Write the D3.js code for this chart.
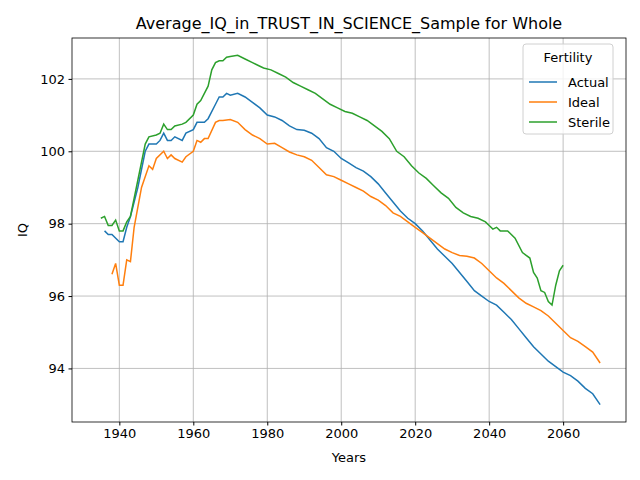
<!DOCTYPE html>
<html>
<head>
<meta charset="utf-8">
<script src="https://d3js.org/d3.v7.min.js"></script>
<style>
  body { margin: 0; background: #fff; }
  text { font-family: "DejaVu Sans", sans-serif; }
</style>
</head>
<body>
<div id="chart"></div>
<script>
// data
var actualYears = [1936,1937,1938,1940,1941,1942,1943,1945,1947,1948,1950,1951,1952,1953,1954,1955,1957,1958,1960,1961,1963,1964,1966,1967,1968,1969,1970,1972,1974,1976,1978,1980,1982,1984,1986,1988,1990,1992,1994,1996,1998,2000,2002,2004,2006,2008,2010,2012,2014,2016,2018,2020,2022,2024,2026,2028,2030,2032,2034,2036,2038,2040,2042,2044,2046,2048,2050,2052,2054,2056,2058,2060,2062,2064,2066,2068,2070];
var actualIQ = [97.8,97.7,97.7,97.5,97.5,97.9,98.2,99.0,100.0,100.2,100.2,100.3,100.5,100.3,100.3,100.4,100.3,100.5,100.6,100.8,100.8,100.9,101.3,101.5,101.5,101.6,101.55,101.6,101.5,101.35,101.2,101.0,100.95,100.85,100.7,100.6,100.58,100.5,100.35,100.1,100.0,99.8,99.68,99.55,99.45,99.3,99.1,98.85,98.6,98.35,98.15,98.0,97.8,97.55,97.3,97.1,96.9,96.65,96.4,96.15,96.0,95.85,95.75,95.55,95.35,95.1,94.85,94.6,94.4,94.2,94.05,93.9,93.8,93.65,93.45,93.3,93.0];

var idealYears = [1938,1939,1940,1941,1942,1943,1944,1946,1948,1949,1950,1952,1953,1954,1955,1957,1958,1960,1961,1962,1963,1964,1966,1967,1968,1970,1972,1974,1976,1978,1980,1982,1984,1986,1988,1990,1992,1994,1996,1998,2000,2002,2004,2006,2008,2010,2012,2014,2016,2018,2020,2022,2024,2026,2028,2030,2032,2034,2036,2038,2040,2042,2044,2046,2048,2050,2052,2054,2056,2058,2060,2062,2064,2066,2068,2070];
var idealIQ = [96.6,96.9,96.3,96.3,97.0,96.95,97.9,99.0,99.6,99.5,99.8,100.0,99.8,99.9,99.8,99.7,99.85,100.0,100.3,100.25,100.35,100.35,100.8,100.85,100.85,100.88,100.8,100.6,100.45,100.35,100.2,100.22,100.1,99.98,99.9,99.85,99.75,99.55,99.35,99.3,99.2,99.1,99.0,98.9,98.75,98.65,98.5,98.3,98.2,98.05,97.9,97.75,97.6,97.45,97.3,97.2,97.12,97.1,97.05,96.9,96.7,96.5,96.35,96.15,95.95,95.8,95.7,95.6,95.45,95.25,95.05,94.85,94.75,94.6,94.45,94.15];

var sterileYears = [1935,1936,1937,1938,1939,1940,1941,1942,1943,1945,1947,1948,1950,1951,1952,1953,1954,1955,1957,1958,1960,1961,1962,1964,1965,1966,1967,1968,1969,1970,1972,1974,1976,1978,1979,1981,1983,1985,1987,1989,1991,1993,1995,1997,1999,2001,2003,2005,2007,2009,2011,2013,2015,2017,2019,2021,2023,2025,2027,2029,2031,2033,2035,2037,2039,2040,2041,2042,2043,2045,2047,2049,2051,2052,2053,2054,2055,2056,2057,2058,2059,2060];
var sterileIQ = [98.15,98.2,97.95,97.95,98.1,97.8,97.8,98.05,98.2,99.2,100.2,100.4,100.45,100.5,100.75,100.6,100.6,100.7,100.75,100.8,101.0,101.3,101.4,101.8,102.25,102.45,102.5,102.5,102.6,102.62,102.65,102.55,102.45,102.35,102.3,102.25,102.15,102.05,101.9,101.8,101.7,101.6,101.45,101.3,101.2,101.1,101.05,100.95,100.85,100.7,100.55,100.35,100.0,99.85,99.6,99.4,99.25,99.05,98.85,98.7,98.45,98.3,98.2,98.15,98.05,97.95,97.85,97.9,97.8,97.8,97.6,97.2,97.05,96.65,96.5,96.15,96.1,95.85,95.75,96.3,96.7,96.85];

var seriesNames = ["Actual", "Ideal", "Sterile"];
var seriesColors = ["#1f77b4", "#ff7f0e", "#2ca02c"];
var xTicks = [1940, 1960, 1980, 2000, 2020, 2040, 2060];
var yTicks = [94, 96, 98, 100, 102];

var series = [
  { name: seriesNames[0], years: actualYears, values: actualIQ },
  { name: seriesNames[1], years: idealYears, values: idealIQ },
  { name: seriesNames[2], years: sterileYears, values: sterileIQ }
];

var W = 640, H = 480;
var margin = { top: 38, right: 14, bottom: 58, left: 72 };
var w = W - margin.left - margin.right, h = H - margin.top - margin.bottom;

var svg = d3.select("#chart").append("svg")
  .attr("width", W).attr("height", H);
var g = svg.append("g")
  .attr("transform", "translate(" + margin.left + "," + margin.top + ")");

var x = d3.scaleLinear().domain([1927.2, 2077]).range([0, w]);
var y = d3.scaleLinear().domain([92.52, 103.13]).range([h, 0]);

// grid
g.selectAll(".vgrid").data(xTicks).enter().append("line")
  .attr("x1", d => x(d)).attr("x2", d => x(d))
  .attr("y1", 0).attr("y2", h)
  .attr("stroke", "#b0b0b0").attr("stroke-width", 0.8);
g.selectAll(".hgrid").data(yTicks).enter().append("line")
  .attr("x1", 0).attr("x2", w)
  .attr("y1", d => y(d)).attr("y2", d => y(d))
  .attr("stroke", "#b0b0b0").attr("stroke-width", 0.8);

// lines
var line = d3.line().x(d => x(d[0])).y(d => y(d[1]));
series.forEach(function (s, i) {
  g.append("path")
    .datum(s.years.map((yr, j) => [yr, s.values[j]]))
    .attr("d", line)
    .attr("fill", "none")
    .attr("stroke", seriesColors[i])
    .attr("stroke-width", 1.5);
});

// axes
var xAxis = g.append("g").attr("transform", "translate(0," + h + ")")
  .call(d3.axisBottom(x).tickValues(xTicks).tickFormat(d3.format("d")).tickSize(3.5).tickPadding(3.5));
var yAxis = g.append("g")
  .call(d3.axisLeft(y).tickValues(yTicks).tickSize(3.5).tickPadding(3.5));
[xAxis, yAxis].forEach(function (a) {
  a.select(".domain").remove();
  a.selectAll("text").attr("font-size", 13).attr("fill", "#000");
  a.selectAll("line").attr("stroke", "#000");
});
g.append("rect").attr("width", w).attr("height", h)
  .attr("fill", "none").attr("stroke", "#000").attr("stroke-width", 0.8);

// labels
svg.append("text").attr("x", margin.left + w / 2).attr("y", 29)
  .attr("text-anchor", "middle").attr("font-size", 16)
  .text("Average_IQ_in_TRUST_IN_SCIENCE_Sample for Whole");
svg.append("text").attr("x", margin.left + w / 2).attr("y", 462)
  .attr("text-anchor", "middle").attr("font-size", 13).text("Years");
svg.append("text").attr("transform", "translate(27," + (margin.top + h / 2) + ") rotate(-90)")
  .attr("text-anchor", "middle").attr("font-size", 13).text("IQ");

// legend
var lg = svg.append("g").attr("transform", "translate(523,44)");
lg.append("rect").attr("width", 90).attr("height", 90).attr("rx", 3)
  .attr("fill", "#fff").attr("fill-opacity", 0.8).attr("stroke", "#d0d0d0");
lg.append("text").attr("x", 45).attr("y", 18).attr("text-anchor", "middle")
  .attr("font-size", 13).text("Fertility");
seriesNames.forEach(function (n, i) {
  var yy = 38 + i * 20;
  lg.append("line").attr("x1", 6).attr("x2", 34).attr("y1", yy).attr("y2", yy)
    .attr("stroke", seriesColors[i]).attr("stroke-width", 1.5);
  lg.append("text").attr("x", 45).attr("y", yy + 4.5).attr("font-size", 13).text(n);
});
</script>
</body>
</html>
